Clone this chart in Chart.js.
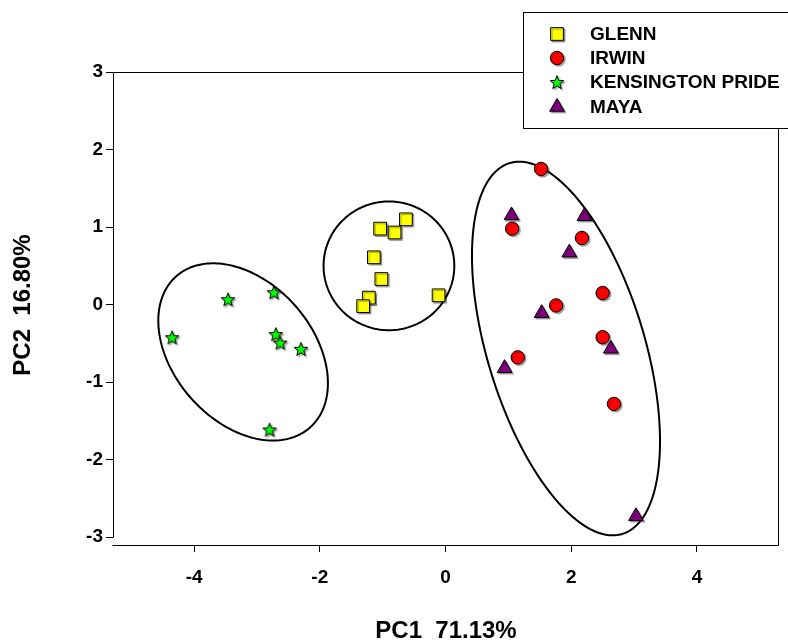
<!DOCTYPE html>
<html><head><meta charset="utf-8">
<script src="https://cdn.jsdelivr.net/npm/chart.js@4/dist/chart.umd.min.js"></script>
<style>html,body{margin:0;padding:0;background:#fff}</style>
</head><body>
<canvas id="c" width="788" height="642"></canvas>
<script>
// ---- data ----
const seriesNames = ['GLENN', 'IRWIN', 'KENSINGTON PRIDE', 'MAYA'];
const glenn = [[-0.63,1.10],[-1.04,0.98],[-0.81,0.93],[-1.14,0.61],[-1.02,0.33],[-1.22,0.09],[-1.31,-0.02],[-0.11,0.12]];
const irwin = [[1.52,1.75],[1.06,0.98],[2.17,0.86],[1.76,-0.01],[2.50,0.15],[2.50,-0.42],[1.15,-0.68],[2.68,-1.28]];
const kensington = [[-4.35,-0.42],[-3.46,0.07],[-2.73,0.16],[-2.70,-0.38],[-2.63,-0.49],[-2.30,-0.57],[-2.80,-1.61]];
const maya = [[1.05,1.15],[2.21,1.14],[1.97,0.67],[1.53,-0.11],[2.63,-0.57],[0.94,-0.82],[3.03,-2.73]];
const xTickValues = [-4, -2, 0, 2, 4];
const yTickValues = [-3, -2, -1, 0, 1, 2, 3];
const xTitle = 'PC1  71.13%';
const yTitle = 'PC2  16.80%';
// cluster ellipses in data units: centre, first semi-axis vector, second semi-axis vector
const clusterEllipses = [
  {c: [-0.90, 0.50], a: [1.04, 0], b: [0, 0.83]},
  {c: [-3.22, -0.61], a: [1.067, -0.973], b: [-0.826, -0.599]},
  {c: [1.917, -0.566], a: [0.897, -2.391], b: [-1.197, -0.297]}
];

// ---- star marker ----
function makeStar(fill) {
  const s = 18, cv = document.createElement('canvas');
  cv.width = s; cv.height = s;
  const g = cv.getContext('2d');
  const R = 7.2, r = 3.0, cx = s / 2, cy = s / 2 + 0.8;
  g.beginPath();
  for (let i = 0; i < 10; i++) {
    const ang = -Math.PI / 2 + i * Math.PI / 5;
    const rad = i % 2 === 0 ? R : r;
    const px = cx + rad * Math.cos(ang), py = cy + rad * Math.sin(ang);
    if (i === 0) g.moveTo(px, py); else g.lineTo(px, py);
  }
  g.closePath();
  g.fillStyle = fill; g.fill();
  g.lineWidth = 1; g.strokeStyle = '#000'; g.stroke();
  return cv;
}
const starImg = makeStar('#00FF00');

const toXY = arr => arr.map(p => ({x: p[0], y: p[1]}));
const styles = [
  {pointStyle: 'rect', radius: 9, color: '#FFFF00'},
  {pointStyle: 'circle', radius: 6.7, color: '#FF0000'},
  {pointStyle: starImg, radius: 8, color: '#00FF00'},
  {pointStyle: 'triangle', radius: 8.5, color: '#800080'}
];
const seriesData = [glenn, irwin, kensington, maya];

const datasets = seriesData.map((d, i) => ({
  label: seriesNames[i],
  data: toXY(d),
  pointStyle: styles[i].pointStyle,
  pointRadius: styles[i].radius,
  backgroundColor: styles[i].color,
  borderColor: '#000',
  pointBorderWidth: 1
}));

const FONT = '"Liberation Sans", Arial, Helvetica, sans-serif';

const framePlugin = {
  id: 'frame',
  beforeDatasetsDraw(chart) {
    const {ctx, chartArea: a, scales: {x, y}} = chart;
    ctx.save();
    ctx.strokeStyle = '#000';
    ctx.lineWidth = 2;
    clusterEllipses.forEach(e => {
      ctx.beginPath();
      for (let i = 0; i <= 200; i++) {
        const t = i / 200 * Math.PI * 2;
        const vx = e.c[0] + e.a[0] * Math.cos(t) + e.b[0] * Math.sin(t);
        const vy = e.c[1] + e.a[1] * Math.cos(t) + e.b[1] * Math.sin(t);
        const px = x.getPixelForValue(vx), py = y.getPixelForValue(vy);
        if (i === 0) ctx.moveTo(px, py); else ctx.lineTo(px, py);
      }
      ctx.closePath();
      ctx.stroke();
    });
    ctx.lineWidth = 1;
    const L = Math.round(a.left) + 0.5, R = Math.round(a.right) + 0.5;
    const T = Math.round(a.top) + 0.5, B = Math.round(a.bottom) + 0.5;
    const yEnd = Math.round(y.getPixelForValue(-3)) + 0.5;
    ctx.beginPath();
    ctx.moveTo(L, T); ctx.lineTo(R, T);
    ctx.moveTo(R, T); ctx.lineTo(R, B);
    ctx.moveTo(L - 1, B); ctx.lineTo(R, B);
    ctx.moveTo(L, T); ctx.lineTo(L, yEnd);
    ctx.stroke();
    ctx.restore();
    // marker shadow
    ctx.save();
    ctx.shadowColor = 'rgba(0,0,0,0.35)';
    ctx.shadowOffsetX = 1.5;
    ctx.shadowOffsetY = 1.5;
    ctx.shadowBlur = 1;
  },
  afterDatasetsDraw(chart) {
    chart.ctx.restore();
  },
  afterDraw(chart) {
    const {ctx} = chart;
    ctx.save();
    // titles
    ctx.fillStyle = '#000';
    ctx.font = 'bold 24px ' + FONT;
    ctx.textAlign = 'center';
    ctx.textBaseline = 'middle';
    ctx.fillText(xTitle, 446, 631);
    ctx.save();
    ctx.translate(23, 305);
    ctx.rotate(-Math.PI / 2);
    ctx.fillText(yTitle, 0, 0);
    ctx.restore();
    // legend
    ctx.fillStyle = '#fff';
    ctx.fillRect(523.5, 12.5, 270, 116);
    ctx.strokeStyle = '#000';
    ctx.lineWidth = 1;
    ctx.strokeRect(523.5, 12.5, 270, 116);
    const rows = [34, 58, 82, 107];
    const mx = 557;
    ctx.font = 'bold 19px ' + FONT;
    ctx.textAlign = 'left';
    ctx.textBaseline = 'middle';
    seriesNames.forEach((n, i) => {
      const cy = rows[i], st = styles[i];
      ctx.save();
      ctx.shadowColor = 'rgba(0,0,0,0.35)';
      ctx.shadowOffsetX = 1.5; ctx.shadowOffsetY = 1.5; ctx.shadowBlur = 1;
      ctx.fillStyle = st.color; ctx.strokeStyle = '#000'; ctx.lineWidth = 1;
      ctx.beginPath();
      if (st.pointStyle === 'rect') {
        const h = st.radius * Math.SQRT1_2;
        ctx.rect(mx - h, cy - h, 2 * h, 2 * h);
        ctx.fill(); ctx.stroke();
      } else if (st.pointStyle === 'circle') {
        ctx.arc(mx, cy, st.radius, 0, Math.PI * 2);
        ctx.fill(); ctx.stroke();
      } else if (st.pointStyle === 'triangle') {
        const r = st.radius;
        ctx.moveTo(mx, cy - r);
        ctx.lineTo(mx + r * Math.sin(2 * Math.PI / 3), cy - r * Math.cos(2 * Math.PI / 3));
        ctx.lineTo(mx + r * Math.sin(4 * Math.PI / 3), cy - r * Math.cos(4 * Math.PI / 3));
        ctx.closePath();
        ctx.fill(); ctx.stroke();
      } else {
        ctx.drawImage(st.pointStyle, mx - 9, cy - 9);
      }
      ctx.restore();
      ctx.fillStyle = '#000';
      ctx.fillText(n, 590, cy + 1);
    });
    ctx.restore();
  }
};

new Chart(document.getElementById('c'), {
  type: 'scatter',
  data: {datasets},
  options: {
    responsive: false,
    animation: false,
    devicePixelRatio: 1,
    events: [],
    layout: {padding: {top: 72, right: 9, left: 0, bottom: 0}},
    plugins: {legend: {display: false}, tooltip: {enabled: false}},
    scales: {
      x: {
        type: 'linear', min: -5.29, max: 5.29,
        afterBuildTicks: s => { s.ticks = xTickValues.map(v => ({value: v})); },
        afterFit: s => { s.height = 97; },
        grid: {display: true, drawOnChartArea: false, drawTicks: true, tickLength: 7, color: '#000', lineWidth: 1},
        border: {display: false},
        ticks: {color: '#000', font: {family: FONT, size: 19, weight: 'bold'}, padding: 14, maxRotation: 0}
      },
      y: {
        type: 'linear', min: -3.1, max: 3,
        afterBuildTicks: s => { s.ticks = yTickValues.map(v => ({value: v})); },
        afterFit: s => { s.width = 113; },
        grid: {display: true, drawOnChartArea: false, drawTicks: true, tickLength: 7, color: '#000', lineWidth: 1},
        border: {display: false},
        ticks: {color: '#000', font: {family: FONT, size: 19, weight: 'bold'}, padding: 3}
      }
    }
  },
  plugins: [framePlugin]
});
</script>
</body></html>
